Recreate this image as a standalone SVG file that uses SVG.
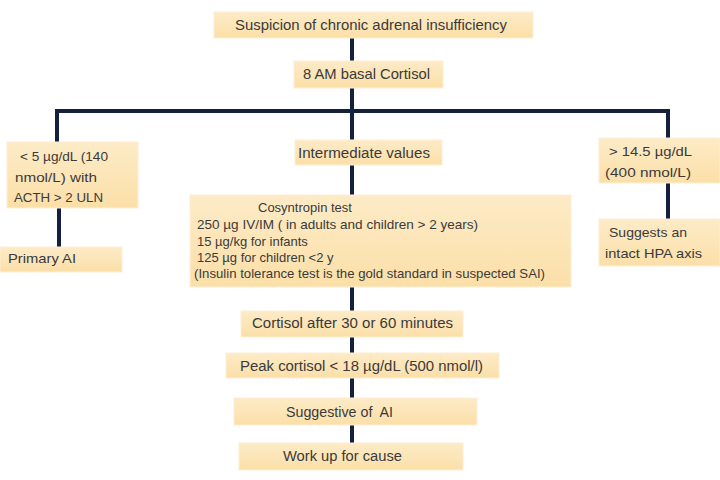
<svg xmlns="http://www.w3.org/2000/svg" width="720" height="480" viewBox="0 0 720 480">
<style>
.box{fill:url(#g);stroke:#fdeed4;stroke-width:1}
.t{font-family:"Liberation Sans",Arial,sans-serif;fill:#3a3a3a}
.s15{font-size:15px}
.s14{font-size:14px}
.s13{font-size:13px}
.c{fill:none;stroke:#14203d;stroke-width:4;stroke-linecap:butt;stroke-linejoin:miter}
</style>
<defs>
<linearGradient id="g" x1="0" y1="0" x2="0" y2="1">
<stop offset="0" stop-color="#fdebc7"/>
<stop offset="1" stop-color="#fbdfa8"/>
</linearGradient>
</defs>
<rect width="720" height="480" fill="#ffffff"/>
<g id="connectors">
<path class="c" d="M352 38 V61"/>
<path class="c" d="M352 88 V140"/>
<path class="c" d="M57 142 V111 H668 V138"/>
<path class="c" d="M352 165 V195"/>
<path class="c" d="M352 287 V311"/>
<path class="c" d="M352 337 V353"/>
<path class="c" d="M352 378 V398"/>
<path class="c" d="M352 425 V443"/>
<path class="c" d="M59 208 V247"/>
<path class="c" d="M668 183 V219"/>
</g>
<g id="n1">
<rect class="box" x="214" y="12" width="319" height="26"/>
<text class="t s15" x="235" y="30" textLength="272" lengthAdjust="spacingAndGlyphs">Suspicion of chronic adrenal insufficiency</text>
</g>
<g id="n2">
<rect class="box" x="294" y="61" width="149" height="27"/>
<text class="t s15" x="303" y="79" textLength="127" lengthAdjust="spacingAndGlyphs">8 AM basal Cortisol</text>
</g>
<g id="n3">
<rect class="box" x="7" y="142" width="131" height="66"/>
<text class="t s13" x="20" y="161" textLength="88" lengthAdjust="spacingAndGlyphs">&lt; 5 µg/dL (140</text>
<text class="t s13" x="15" y="182" textLength="82" lengthAdjust="spacingAndGlyphs">nmol/L) with</text>
<text class="t s13" x="14" y="202" textLength="89" lengthAdjust="spacingAndGlyphs">ACTH &gt; 2 ULN</text>
</g>
<g id="n4">
<rect class="box" x="0" y="247" width="122" height="25"/>
<text class="t s13" x="8" y="263" textLength="68" lengthAdjust="spacingAndGlyphs">Primary AI</text>
</g>
<g id="n5">
<rect class="box" x="295" y="140" width="147" height="25"/>
<text class="t s14" x="298" y="158" textLength="132" lengthAdjust="spacingAndGlyphs">Intermediate values</text>
</g>
<g id="n6">
<rect class="box" x="190" y="195" width="381" height="92"/>
<text class="t s13" x="258" y="212">Cosyntropin test</text>
<text class="t s13" x="197" y="229" textLength="281" lengthAdjust="spacingAndGlyphs">250 µg IV/IM ( in adults and children &gt; 2 years)</text>
<text class="t s13" x="197" y="246">15 µg/kg for infants</text>
<text class="t s13" x="197" y="262">125 µg for children &lt;2 y</text>
<text class="t s13" x="194" y="278" textLength="351" lengthAdjust="spacingAndGlyphs">(Insulin tolerance test is the gold standard in suspected SAI)</text>
</g>
<g id="n7">
<rect class="box" x="599" y="138" width="121" height="45"/>
<text class="t s13" x="609" y="156" textLength="83" lengthAdjust="spacingAndGlyphs">&gt; 14.5 µg/dL</text>
<text class="t s13" x="605" y="177" textLength="86" lengthAdjust="spacingAndGlyphs">(400 nmol/L)</text>
</g>
<g id="n8">
<rect class="box" x="599" y="219" width="121" height="47"/>
<text class="t s13" x="609" y="237" textLength="78" lengthAdjust="spacingAndGlyphs">Suggests an</text>
<text class="t s13" x="605" y="258" textLength="97" lengthAdjust="spacingAndGlyphs">intact HPA axis</text>
</g>
<g id="n9">
<rect class="box" x="241" y="311" width="222" height="26"/>
<text class="t s14" x="252" y="328" textLength="201" lengthAdjust="spacingAndGlyphs">Cortisol after 30 or 60 minutes</text>
</g>
<g id="n10">
<rect class="box" x="226" y="353" width="273" height="25"/>
<text class="t s14" x="240" y="371" textLength="243" lengthAdjust="spacingAndGlyphs">Peak cortisol &lt; 18 µg/dL (500 nmol/l)</text>
</g>
<g id="n11">
<rect class="box" x="234" y="398" width="243" height="27"/>
<text class="t s14" x="286" y="417" textLength="107" lengthAdjust="spacingAndGlyphs" xml:space="preserve">Suggestive of  AI</text>
</g>
<g id="n12">
<rect class="box" x="239" y="443" width="224" height="27"/>
<text class="t s14" x="283" y="461" textLength="119" lengthAdjust="spacingAndGlyphs">Work up for cause</text>
</g>
</svg>
